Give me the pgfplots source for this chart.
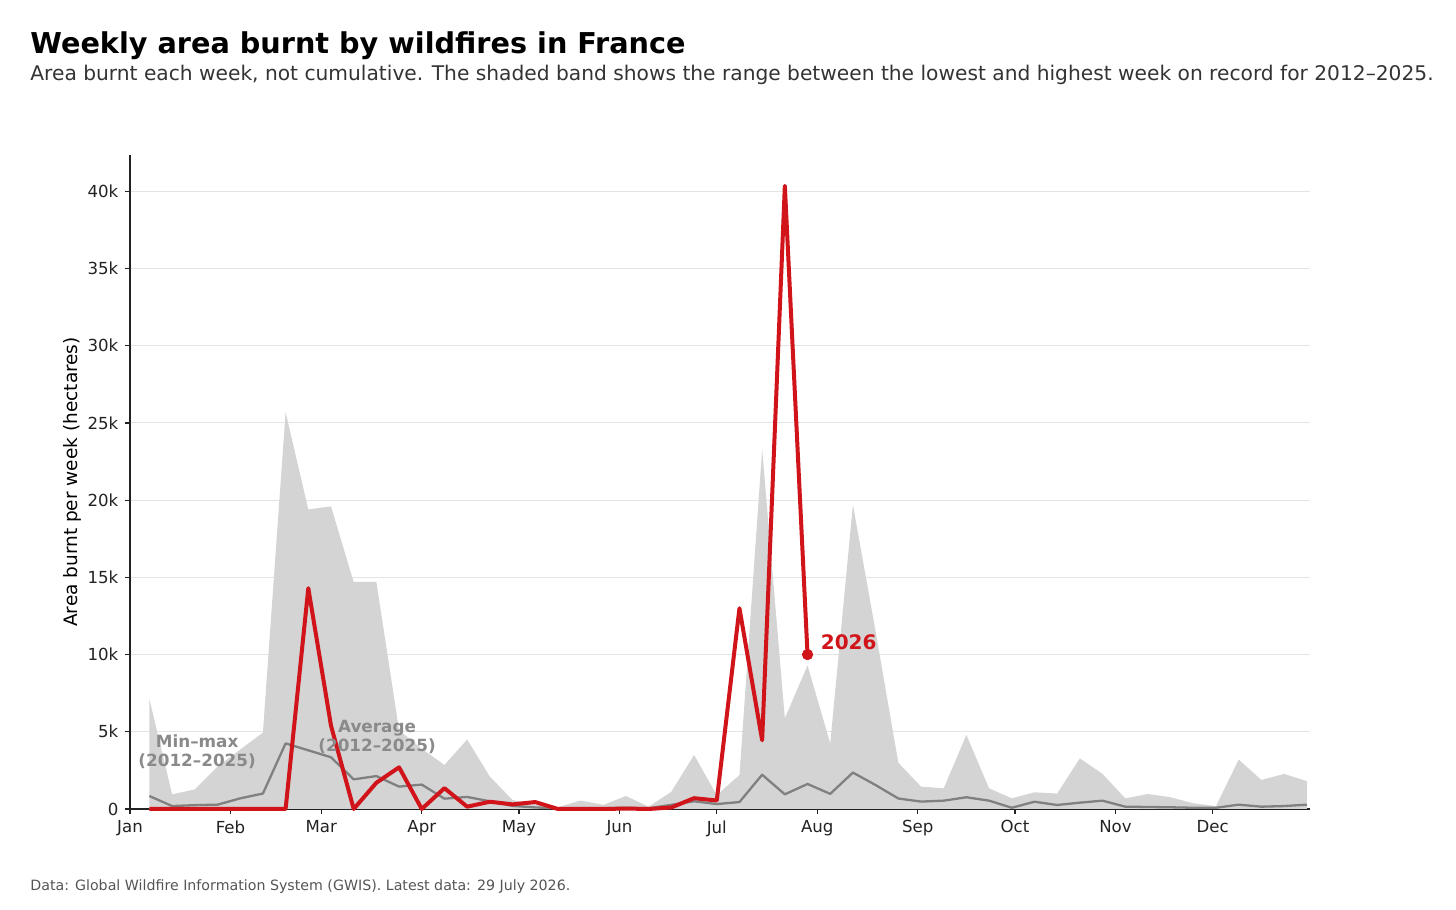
\documentclass[border=0pt]{standalone}
\usepackage{fontspec}
\setmainfont{DejaVu Sans}
\usepackage{pgfplots}
\usepackage{pgfplotstable}
\pgfplotsset{compat=1.18}
\definecolor{redline}{RGB}{208,20,26}
\definecolor{band}{RGB}{212,212,212}
\definecolor{avg}{RGB}{128,128,128}
\definecolor{gridc}{RGB}{228,228,228}
\definecolor{spine}{RGB}{34,34,34}
\definecolor{lbl}{RGB}{138,138,138}
\definecolor{subc}{RGB}{51,51,51}
\definecolor{footc}{RGB}{85,85,85}

\pgfplotstableread{
x max avg
6 7100 840
13 950 190
20 1270 250
27 2750 280
34 3850 690
41 4950 1000
48 25700 4250
55 19400 3800
62 19600 3350
69 14700 1920
76 14700 2130
83 5100 1450
90 3900 1580
97 2850 670
104 4500 780
111 2100 500
118 580 200
125 300 100
132 120 50
139 550 50
146 270 50
153 840 80
160 150 50
167 1120 270
174 3500 500
181 900 320
188 2200 450
195 23300 2220
202 5870 950
209 9300 1620
216 4250 980
223 19700 2360
230 11500 1550
237 3000 680
244 1450 480
251 1340 540
258 4800 760
265 1340 540
272 690 80
279 1080 470
286 1000 260
293 3280 410
300 2270 540
307 690 150
314 970 130
321 760 110
328 370 80
335 190 80
342 3200 280
349 1880 150
356 2270 190
363 1810 280
}\hist

\pgfplotstableread{
x y
6 0
13 0
20 0
27 0
34 0
41 0
48 0
55 14300
62 5400
69 0
76 1700
83 2700
90 0
97 1350
104 150
111 470
118 300
125 450
132 0
139 0
146 0
153 30
160 0
167 100
174 700
181 550
188 13000
195 4450
202 40350
209 10000
}\cur

\begin{document}
\begin{tikzpicture}
\useasboundingbox (0pt,0pt) rectangle (728pt,455pt);
\node[anchor=base west, inner sep=0, font=\fontsize{14.35}{17}\selectfont\bfseries] at (15pt,428pt) {Weekly area burnt by wildfires in France};
\node[anchor=base west, inner sep=0, text=subc, font=\fontsize{10.1}{12}\selectfont] at (15pt,414.5pt) {Area burnt each week, not cumulative. The shaded band shows the range between the lowest and highest week on record for 2012–2025.};
\node[anchor=base west, inner sep=0, text=footc, font=\fontsize{7.1}{8.5}\selectfont] at (15pt,9.5pt) {Data: Global Wildfire Information System (GWIS). Latest data: 29 July 2026.};
\node[rotate=90, inner sep=0, font=\fontsize{9.25}{11}\selectfont] at (36pt,214pt) {Area burnt per week (hectares)};
\begin{axis}[
  at={(65pt,50.5pt)}, anchor=origin,
  scale only axis, width=590pt, height=327pt,
  xmin=0, xmax=364, ymin=0, ymax=42350,
  clip=false,
  scaled y ticks=false, scaled x ticks=false,
  axis x line*=bottom, axis y line*=left,
  axis line style={spine, line width=0.75pt, -},
  xtick={0,31,59,90,120,151,181,212,243,273,304,334},
  xticklabels={Jan,Feb,Mar,Apr,May,Jun,Jul,Aug,Sep,Oct,Nov,Dec},
  ytick={0,5000,10000,15000,20000,25000,30000,35000,40000},
  yticklabels={0,5k,10k,15k,20k,25k,30k,35k,40k},
  tick align=outside, major tick length=2.6pt,
  tick style={spine, line width=0.6pt},
  ymajorgrids, grid style={gridc, line width=0.5pt},
  tick label style={font=\fontsize{8.3}{10}\selectfont, text=spine},
  xticklabel style={yshift=0.3pt},
  yticklabel style={xshift=0.3pt},
]
\addplot[fill=band, draw=none] table[x=x, y=max] {\hist} \closedcycle;
\addplot[avg, line width=1.15pt, line join=round] table[x=x, y=avg] {\hist};
\addplot[redline, line width=2pt, line join=round] table[x=x, y=y] {\cur};
\addplot[redline, only marks, mark=*, mark size=2.6pt] coordinates {(209,10000)};
\node[anchor=west, inner sep=0, text=redline, font=\fontsize{10}{12}\selectfont\bfseries] at (axis cs:213,10800) {2026};
\node[align=center, inner sep=0, text=lbl, font=\fontsize{8.4}{9.5}\selectfont\bfseries] at (axis cs:20.7,3690) {Min–max\\(2012–2025)};
\node[align=center, inner sep=0, text=lbl, font=\fontsize{8.4}{9.5}\selectfont\bfseries] at (axis cs:76.2,4660) {Average\\(2012–2025)};
\end{axis}
\end{tikzpicture}
\end{document}
